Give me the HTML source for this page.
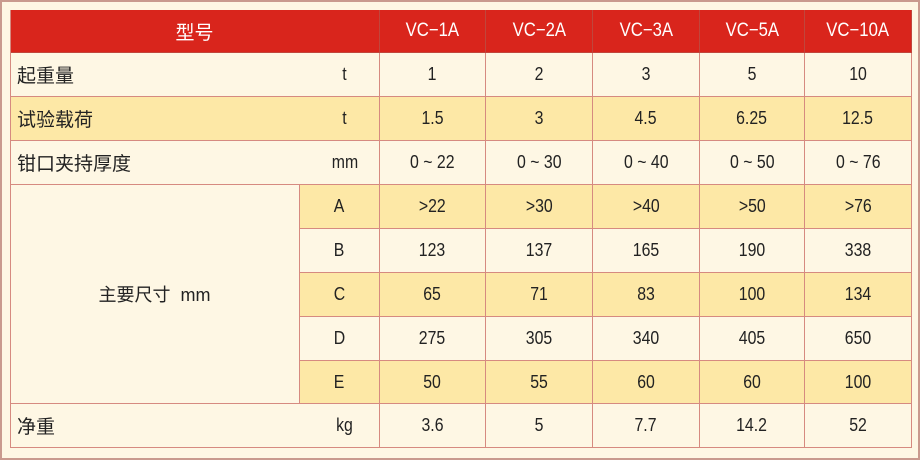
<!DOCTYPE html><html><head><meta charset="utf-8"><style>
body{margin:0;width:920px;height:461px;background:#fff;overflow:hidden;font-family:"Liberation Sans","Noto Sans CJK SC",sans-serif;}
#f{position:absolute;left:0;top:0;width:916px;height:456px;border:2px solid #c99a8e;background:#fef7e4;}
.c{position:absolute;box-sizing:border-box;border-right:1px solid #d68a80;border-bottom:1px solid #d68a80;display:flex;align-items:center;justify-content:center;font-size:18px;color:#222;}
.c span.n{display:inline-block;transform:scaleX(0.88);}
.h{background:#d9251c;color:#fff;font-size:19px;border-color:#c0463c;}
.y{background:#fde8a6;}.w{background:#fef7e4;}
.l{justify-content:flex-start;padding-left:7px;font-size:19px;}
.u{position:absolute;left:305px;width:60px;text-align:center;font-size:18px;}
</style></head><body><div id="f"></div><div id="t"></div>
<script>
var X=[10,300,380,486,593,700,805,912],Y=[10,53,97,141,185,229,273,317,361,404,448];
var h='';function c(x1,y1,x2,y2,cls,t){h+='<div class="c '+cls+'" style="left:'+x1+'px;top:'+y1+'px;width:'+(x2-x1)+'px;height:'+(y2-y1)+'px">'+t+'</div>';}
function n(t){return '<span class="n">'+t+'</span>';}
c(10,10,380,53,'h','型号');
['VC−1A','VC−2A','VC−3A','VC−5A','VC−10A'].forEach((t,i)=>c(X[i+2],10,X[i+3],53,'h',n(t)));
var rows=[['起重量','t',['1','2','3','5','10'],'w'],['试验载荷','t',['1.5','3','4.5','6.25','12.5'],'y'],['钳口夹持厚度','mm',['0 ~ 22','0 ~ 30','0 ~ 40','0 ~ 50','0 ~ 76'],'w']];
rows.forEach((r,k)=>{var y1=Y[k+1],y2=Y[k+2];c(10,y1,380,y2,r[3]+' l',r[0]+'<span class="u">'+n(r[1])+'</span>');r[2].forEach((t,i)=>c(X[i+2],y1,X[i+3],y2,r[3],n(t)));});
c(10,185,300,404,'w','主要尺寸&nbsp;&nbsp;mm');
var sub=[['A',['>22','>30','>40','>50','>76'],'y'],['B',['123','137','165','190','338'],'w'],['C',['65','71','83','100','134'],'y'],['D',['275','305','340','405','650'],'w'],['E',['50','55','60','60','100'],'y']];
sub.forEach((r,k)=>{var y1=Y[k+4],y2=Y[k+5];c(300,y1,380,y2,r[2],n(r[0]));r[1].forEach((t,i)=>c(X[i+2],y1,X[i+3],y2,r[2],n(t)));});
c(10,404,380,448,'w l','净重<span class="u">'+n('kg')+'</span>');
['3.6','5','7.7','14.2','52'].forEach((t,i)=>c(X[i+2],404,X[i+3],448,'w',n(t)));
document.getElementById('t').innerHTML=h;
</script>
<style>#t{position:absolute;left:0;top:0}</style>
<div style="position:absolute;left:10px;top:10px;width:1px;height:438px;background:#d68a80"></div>
</body></html>
